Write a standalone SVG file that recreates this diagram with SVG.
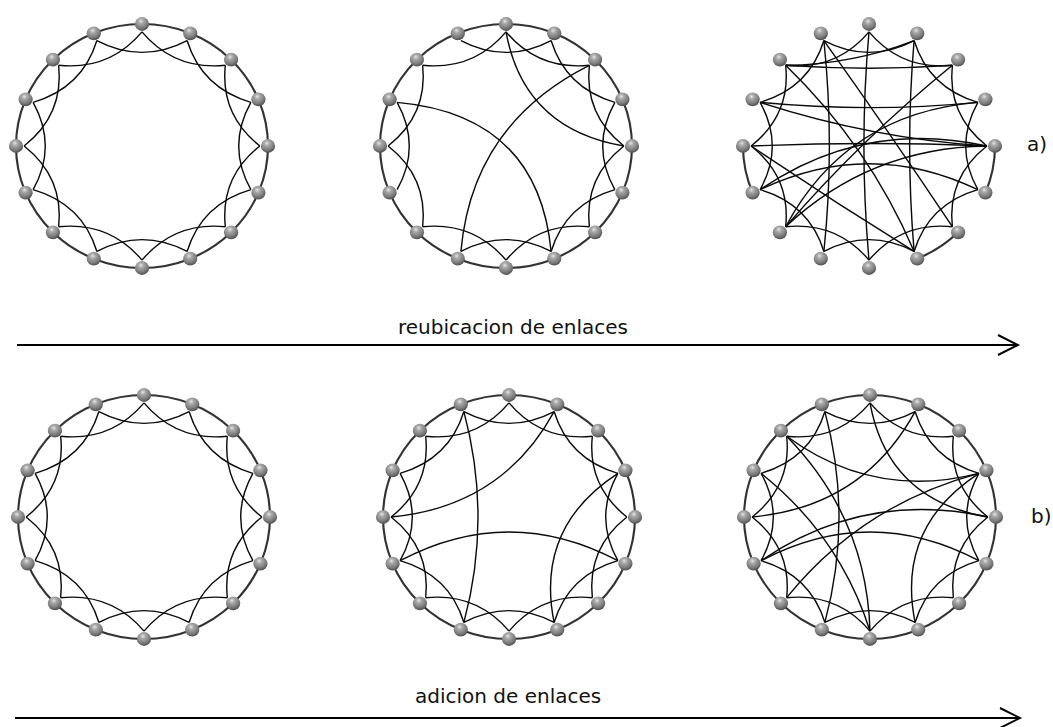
<svg xmlns="http://www.w3.org/2000/svg" xmlns:xlink="http://www.w3.org/1999/xlink" width="1053" height="727" viewBox="0 0 1053 727">
<style>
.rim{fill:none;stroke:#333;stroke-width:2.1}
.e{fill:none;stroke:#0a0a0a;stroke-width:1.4}
.lbl{font-family:"DejaVu Sans","Liberation Sans",sans-serif;font-size:20px;fill:#111}
.arr{fill:none;stroke:#000;stroke-width:2}
</style>
<defs>
<radialGradient id="ball" cx="0.42" cy="0.3" r="0.72">
<stop offset="0" stop-color="#e6e6e6"/>
<stop offset="0.25" stop-color="#aaaaaa"/>
<stop offset="0.7" stop-color="#7a7a7a"/>
<stop offset="1" stop-color="#4a4a4a"/>
</radialGradient>
<circle id="b" r="7" fill="url(#ball)"/>
<path id="a0" d="M0,-116 Q31.84,-76.87 82.02,-82.02"/>
<path id="a1" d="M44.39,-107.17 Q58.83,-58.83 107.17,-44.39"/>
<path id="a2" d="M82.02,-82.02 Q76.87,-31.84 116,0"/>
<path id="a3" d="M107.17,-44.39 Q83.2,0 107.17,44.39"/>
<path id="a4" d="M116,0 Q76.87,31.84 82.02,82.02"/>
<path id="a5" d="M107.17,44.39 Q58.83,58.83 44.39,107.17"/>
<path id="a6" d="M82.02,82.02 Q31.84,76.87 0,116"/>
<path id="a7" d="M44.39,107.17 Q0,83.2 -44.39,107.17"/>
<path id="a8" d="M0,116 Q-31.84,76.87 -82.02,82.02"/>
<path id="a9" d="M-44.39,107.17 Q-58.83,58.83 -107.17,44.39"/>
<path id="a10" d="M-82.02,82.02 Q-76.87,31.84 -116,0"/>
<path id="a11" d="M-107.17,44.39 Q-83.2,0 -107.17,-44.39"/>
<path id="a12" d="M-116,0 Q-76.87,-31.84 -82.02,-82.02"/>
<path id="a13" d="M-107.17,-44.39 Q-58.83,-58.83 -44.39,-107.17"/>
<path id="a14" d="M-82.02,-82.02 Q-31.84,-76.87 0,-116"/>
<path id="a15" d="M-44.39,-107.17 Q0,-83.2 44.39,-107.17"/>
<g id="lattice">
<circle class="rim" r="124"/>
<use href="#a0"/><use href="#a1"/><use href="#a2"/><use href="#a3"/><use href="#a4"/><use href="#a5"/><use href="#a6"/><use href="#a7"/><use href="#a8"/><use href="#a9"/><use href="#a10"/><use href="#a11"/><use href="#a12"/><use href="#a13"/><use href="#a14"/><use href="#a15"/>
</g>
</defs>
<rect width="1053" height="727" fill="#fff"/>

<g id="connectors">
<g id="ring1-edges" class="e" transform="translate(142,146) scale(1.0161,0.9839)">
<use href="#lattice"/>
</g>
<g id="ring2-edges" class="e" transform="translate(506,146) scale(1.0161,0.9839)">
<circle class="rim" r="124"/>
<use href="#a0"/><use href="#a1"/><use href="#a2"/><use href="#a3"/><use href="#a4"/><use href="#a5"/><use href="#a6"/><use href="#a7"/><use href="#a8"/><use href="#a10"/><use href="#a11"/><use href="#a12"/><use href="#a14"/><use href="#a15"/>
<path d="M0,-116 Q17.4,-17.4 116,0"/>
<path d="M82.02,-82.02 Q-33.26,-22.22 -44.39,107.17"/>
<path d="M-107.17,-44.39 Q31.47,-31.47 44.39,107.17"/>
</g>
<g id="ring3-edges" class="e" transform="translate(869,146) scale(1.0161,0.9839)">
<path class="rim" d="M-114.56,47.45 A124,124 0 0 1 -124,0"/>
<path class="rim" d="M124,0 A124,124 0 0 1 114.56,47.45"/>
<path class="rim" d="M87.68,87.68 A124,124 0 0 1 47.45,114.56"/>
<use href="#a0"/><use href="#a1"/><use href="#a2"/><use href="#a3"/><use href="#a4"/><use href="#a5"/><use href="#a6"/><use href="#a7"/><use href="#a8"/><use href="#a9"/><use href="#a10"/><use href="#a11"/><use href="#a12"/><use href="#a13"/><use href="#a14"/><use href="#a15"/>
<path d="M-107.17,-44.39 Q0,-33.6 107.17,-44.39"/>
<path d="M-116,0 Q0,-5 116,0"/>
<path d="M-82.02,-82.02 Q0,-76 82.02,-82.02"/>
<path d="M0,-116 Q-10,0 0,116"/>
<path d="M44.39,-107.17 Q35.6,0 44.39,107.17"/>
<path d="M-44.39,-107.17 Q-33.6,0 -44.39,107.17"/>
<path d="M-44.39,-107.17 Q20.3,-13.6 82.02,82.02"/>
<path d="M-82.02,-82.02 Q0,0 44.39,107.17"/>
<path d="M-82.02,82.02 Q0.7,1.7 116,0"/>
<path d="M-82.02,82.02 Q-22.3,-33.4 107.17,-44.39"/>
<path d="M-107.17,44.39 Q-5.5,-27.7 116,0"/>
<path d="M-107.17,44.39 Q0,-8.4 107.17,44.39"/>
<path d="M-107.17,-44.39 Q1.56,-7.85 116,0"/>
<path d="M-116,0 Q-36.86,55.17 44.39,107.17"/>
<path d="M82.02,-82.02 Q-7.2,-7.2 -82.02,82.02"/>
<path d="M44.39,-107.17 Q-16.5,-82.8 -82.02,-82.02"/>
</g>
<g id="ring4-edges" class="e" transform="translate(144,517) scale(1.0161,0.9839)">
<use href="#lattice"/>
</g>
<g id="ring5-edges" class="e" transform="translate(509,517) scale(1.0161,0.9839)">
<use href="#lattice"/>
<path d="M-44.39,-107.17 Q-16.6,0 -44.39,107.17"/>
<path d="M44.39,-107.17 Q-6.94,-10.39 -116,0"/>
<path d="M-107.17,44.39 Q0,-14 107.17,44.39"/>
<path d="M107.17,-44.39 Q25.5,10.56 44.39,107.17"/>
</g>
<g id="ring6-edges" class="e" transform="translate(870,517) scale(1.0161,0.9839)">
<use href="#lattice"/>
<path d="M-44.39,-107.17 Q-16.6,0 -44.39,107.17"/>
<path d="M44.39,-107.17 Q-6.94,-10.39 -116,0"/>
<path d="M-107.17,44.39 Q0,-14 107.17,44.39"/>
<path d="M107.17,-44.39 Q25.5,10.56 44.39,107.17"/>
<path d="M0,116 Q-29.5,19.7 -107.17,-44.39"/>
<path d="M-82.02,-82.02 Q3.41,-17.16 107.17,-44.39"/>
<path d="M116,0 Q-5.44,-27.37 -107.17,44.39"/>
<path d="M0,-116 Q17.4,-17.4 116,0"/>
<path d="M0,116 Q-3.1,1.3 -82.02,-82.02"/>
<path d="M-82.02,82.02 Q-8.3,-12.5 107.17,-44.39"/>
</g>
<g id="arrows" class="arr">
<path d="M17,345 H1018 M998,335 L1018,345 L998,355"/>
<path d="M15,718 H1020 M1000,708 L1020,718 L1000,728"/>
</g>
</g>

<g id="nodes">
<g transform="translate(142,146) scale(1.0161,0.9839)">
<g id="r1n0"><use href="#b" x="0" y="-124"/></g><g id="r1n1"><use href="#b" x="47.45" y="-114.56"/></g><g id="r1n2"><use href="#b" x="87.68" y="-87.68"/></g><g id="r1n3"><use href="#b" x="114.56" y="-47.45"/></g><g id="r1n4"><use href="#b" x="124" y="0"/></g><g id="r1n5"><use href="#b" x="114.56" y="47.45"/></g><g id="r1n6"><use href="#b" x="87.68" y="87.68"/></g><g id="r1n7"><use href="#b" x="47.45" y="114.56"/></g><g id="r1n8"><use href="#b" x="0" y="124"/></g><g id="r1n9"><use href="#b" x="-47.45" y="114.56"/></g><g id="r1n10"><use href="#b" x="-87.68" y="87.68"/></g><g id="r1n11"><use href="#b" x="-114.56" y="47.45"/></g><g id="r1n12"><use href="#b" x="-124" y="0"/></g><g id="r1n13"><use href="#b" x="-114.56" y="-47.45"/></g><g id="r1n14"><use href="#b" x="-87.68" y="-87.68"/></g><g id="r1n15"><use href="#b" x="-47.45" y="-114.56"/></g>
</g>
<g transform="translate(506,146) scale(1.0161,0.9839)">
<g id="r2n0"><use href="#b" x="0" y="-124"/></g><g id="r2n1"><use href="#b" x="47.45" y="-114.56"/></g><g id="r2n2"><use href="#b" x="87.68" y="-87.68"/></g><g id="r2n3"><use href="#b" x="114.56" y="-47.45"/></g><g id="r2n4"><use href="#b" x="124" y="0"/></g><g id="r2n5"><use href="#b" x="114.56" y="47.45"/></g><g id="r2n6"><use href="#b" x="87.68" y="87.68"/></g><g id="r2n7"><use href="#b" x="47.45" y="114.56"/></g><g id="r2n8"><use href="#b" x="0" y="124"/></g><g id="r2n9"><use href="#b" x="-47.45" y="114.56"/></g><g id="r2n10"><use href="#b" x="-87.68" y="87.68"/></g><g id="r2n11"><use href="#b" x="-114.56" y="47.45"/></g><g id="r2n12"><use href="#b" x="-124" y="0"/></g><g id="r2n13"><use href="#b" x="-114.56" y="-47.45"/></g><g id="r2n14"><use href="#b" x="-87.68" y="-87.68"/></g><g id="r2n15"><use href="#b" x="-47.45" y="-114.56"/></g>
</g>
<g transform="translate(869,146) scale(1.0161,0.9839)">
<g id="r3n0"><use href="#b" x="0" y="-124"/></g><g id="r3n1"><use href="#b" x="47.45" y="-114.56"/></g><g id="r3n2"><use href="#b" x="87.68" y="-87.68"/></g><g id="r3n3"><use href="#b" x="114.56" y="-47.45"/></g><g id="r3n4"><use href="#b" x="124" y="0"/></g><g id="r3n5"><use href="#b" x="114.56" y="47.45"/></g><g id="r3n6"><use href="#b" x="87.68" y="87.68"/></g><g id="r3n7"><use href="#b" x="47.45" y="114.56"/></g><g id="r3n8"><use href="#b" x="0" y="124"/></g><g id="r3n9"><use href="#b" x="-47.45" y="114.56"/></g><g id="r3n10"><use href="#b" x="-87.68" y="87.68"/></g><g id="r3n11"><use href="#b" x="-114.56" y="47.45"/></g><g id="r3n12"><use href="#b" x="-124" y="0"/></g><g id="r3n13"><use href="#b" x="-114.56" y="-47.45"/></g><g id="r3n14"><use href="#b" x="-87.68" y="-87.68"/></g><g id="r3n15"><use href="#b" x="-47.45" y="-114.56"/></g>
</g>
<g transform="translate(144,517) scale(1.0161,0.9839)">
<g id="r4n0"><use href="#b" x="0" y="-124"/></g><g id="r4n1"><use href="#b" x="47.45" y="-114.56"/></g><g id="r4n2"><use href="#b" x="87.68" y="-87.68"/></g><g id="r4n3"><use href="#b" x="114.56" y="-47.45"/></g><g id="r4n4"><use href="#b" x="124" y="0"/></g><g id="r4n5"><use href="#b" x="114.56" y="47.45"/></g><g id="r4n6"><use href="#b" x="87.68" y="87.68"/></g><g id="r4n7"><use href="#b" x="47.45" y="114.56"/></g><g id="r4n8"><use href="#b" x="0" y="124"/></g><g id="r4n9"><use href="#b" x="-47.45" y="114.56"/></g><g id="r4n10"><use href="#b" x="-87.68" y="87.68"/></g><g id="r4n11"><use href="#b" x="-114.56" y="47.45"/></g><g id="r4n12"><use href="#b" x="-124" y="0"/></g><g id="r4n13"><use href="#b" x="-114.56" y="-47.45"/></g><g id="r4n14"><use href="#b" x="-87.68" y="-87.68"/></g><g id="r4n15"><use href="#b" x="-47.45" y="-114.56"/></g>
</g>
<g transform="translate(509,517) scale(1.0161,0.9839)">
<g id="r5n0"><use href="#b" x="0" y="-124"/></g><g id="r5n1"><use href="#b" x="47.45" y="-114.56"/></g><g id="r5n2"><use href="#b" x="87.68" y="-87.68"/></g><g id="r5n3"><use href="#b" x="114.56" y="-47.45"/></g><g id="r5n4"><use href="#b" x="124" y="0"/></g><g id="r5n5"><use href="#b" x="114.56" y="47.45"/></g><g id="r5n6"><use href="#b" x="87.68" y="87.68"/></g><g id="r5n7"><use href="#b" x="47.45" y="114.56"/></g><g id="r5n8"><use href="#b" x="0" y="124"/></g><g id="r5n9"><use href="#b" x="-47.45" y="114.56"/></g><g id="r5n10"><use href="#b" x="-87.68" y="87.68"/></g><g id="r5n11"><use href="#b" x="-114.56" y="47.45"/></g><g id="r5n12"><use href="#b" x="-124" y="0"/></g><g id="r5n13"><use href="#b" x="-114.56" y="-47.45"/></g><g id="r5n14"><use href="#b" x="-87.68" y="-87.68"/></g><g id="r5n15"><use href="#b" x="-47.45" y="-114.56"/></g>
</g>
<g transform="translate(870,517) scale(1.0161,0.9839)">
<g id="r6n0"><use href="#b" x="0" y="-124"/></g><g id="r6n1"><use href="#b" x="47.45" y="-114.56"/></g><g id="r6n2"><use href="#b" x="87.68" y="-87.68"/></g><g id="r6n3"><use href="#b" x="114.56" y="-47.45"/></g><g id="r6n4"><use href="#b" x="124" y="0"/></g><g id="r6n5"><use href="#b" x="114.56" y="47.45"/></g><g id="r6n6"><use href="#b" x="87.68" y="87.68"/></g><g id="r6n7"><use href="#b" x="47.45" y="114.56"/></g><g id="r6n8"><use href="#b" x="0" y="124"/></g><g id="r6n9"><use href="#b" x="-47.45" y="114.56"/></g><g id="r6n10"><use href="#b" x="-87.68" y="87.68"/></g><g id="r6n11"><use href="#b" x="-114.56" y="47.45"/></g><g id="r6n12"><use href="#b" x="-124" y="0"/></g><g id="r6n13"><use href="#b" x="-114.56" y="-47.45"/></g><g id="r6n14"><use href="#b" x="-87.68" y="-87.68"/></g><g id="r6n15"><use href="#b" x="-47.45" y="-114.56"/></g>
</g>
</g>

<g id="labels">
<text class="lbl" x="398" y="334">reubicacion de enlaces</text>
<text class="lbl" x="415" y="703">adicion de enlaces</text>
<text class="lbl" x="1027" y="151">a)</text>
<text class="lbl" x="1031" y="523">b)</text>
</g>
</svg>
